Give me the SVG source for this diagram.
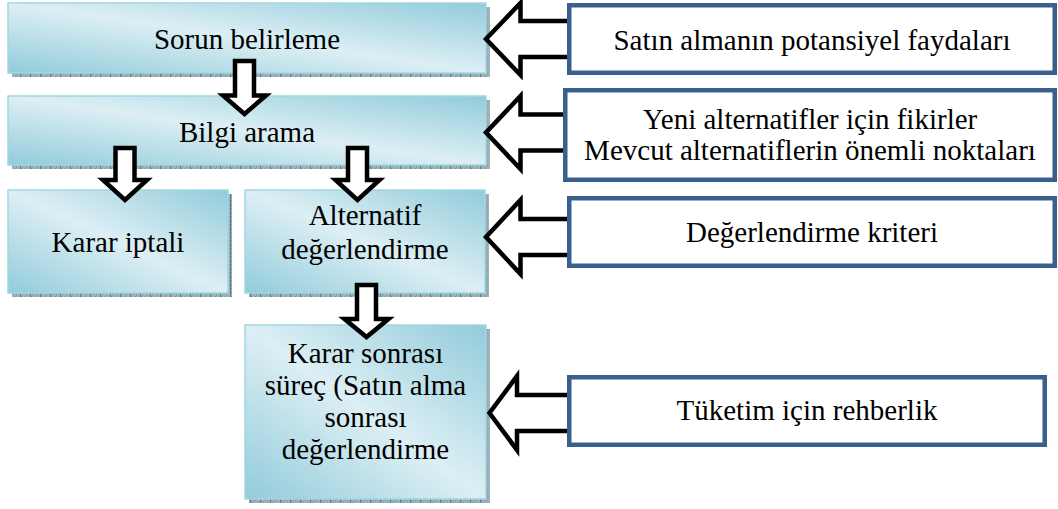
<svg xmlns="http://www.w3.org/2000/svg" width="1058" height="509" viewBox="0 0 1058 509">
  <defs>
    <linearGradient id="aqua" x1="1" y1="0" x2="0" y2="1">
      <stop offset="0" stop-color="#92cbdb"/>
      <stop offset="0.5" stop-color="#dceff4"/>
      <stop offset="1" stop-color="#92cbdb"/>
    </linearGradient>
    <pattern id="shade" patternUnits="userSpaceOnUse" width="10" height="4">
      <rect width="10" height="4" fill="#9cb3b9"/>
      <rect x="1" y="0" width="1" height="1" fill="#7a959d"/>
      <rect x="3" y="1" width="1" height="1" fill="#7a959d"/>
      <rect x="5" y="0" width="1" height="1" fill="#7a959d"/>
      <rect x="7" y="1" width="1" height="1" fill="#7a959d"/>
      <rect x="2" y="2" width="1" height="1" fill="#7a959d"/>
      <rect x="6" y="3" width="1" height="1" fill="#7a959d"/>
      <rect x="0" y="0" width="1" height="4" fill="#5f7e88"/>
    </pattern>
  </defs>
  <style>
    .shadow { fill: url(#shade); }
    .step { fill: url(#aqua); stroke: #a2d6e3; stroke-width: 1.5; }
    .input { fill: #ffffff; stroke: #3a5f8c; stroke-width: 4.5; }
    .arrow { fill: #ffffff; stroke: #000000; stroke-width: 4.5; stroke-linejoin: miter; stroke-miterlimit: 10; }
    .lbl { font-size: 29px; fill: #000000; text-anchor: middle; }
  </style>

  <g font-family="'Liberation Serif', 'Times New Roman', Tinos, 'DejaVu Serif', serif">
  <!-- process steps (left column) -->
  <g id="step-sorun">
    <rect class="shadow" x="12" y="7" width="478" height="70"/>
    <rect class="step" x="8" y="3" width="478" height="70"/>
    <text class="lbl" x="247" y="49">Sorun belirleme</text>
  </g>
  <g id="step-bilgi">
    <rect class="shadow" x="12" y="100" width="478" height="69"/>
    <rect class="step" x="8" y="96" width="478" height="69"/>
    <text class="lbl" x="247" y="142">Bilgi arama</text>
  </g>
  <g id="step-iptal">
    <rect class="shadow" x="12" y="194" width="220" height="103"/>
    <rect class="step" x="8" y="190" width="220" height="103"/>
    <text class="lbl" x="118" y="252">Karar iptali</text>
  </g>
  <g id="step-alternatif">
    <rect class="shadow" x="249" y="194" width="240" height="103"/>
    <rect class="step" x="245" y="190" width="240" height="103"/>
    <text class="lbl" x="365" y="225">Alternatif</text>
    <text class="lbl" x="365" y="259">değerlendirme</text>
  </g>
  <g id="step-sonrasi">
    <rect class="shadow" x="249" y="329" width="241" height="174"/>
    <rect class="step" x="245" y="325" width="241" height="174"/>
    <text class="lbl" x="365.5" y="363">Karar sonrası</text>
    <text class="lbl" x="365.5" y="395">süreç (Satın alma</text>
    <text class="lbl" x="365.5" y="427">sonrası</text>
    <text class="lbl" x="365.5" y="459">değerlendirme</text>
  </g>

  <!-- block arrows -->
  <g id="connectors">
    <path class="arrow" d="M235,61 H254 V95.5 H266 L244.5,114 L223,95.5 H235 Z"/>
    <path class="arrow" d="M115.5,148 H134.5 V180 H147 L125,200 L103,180 H115.5 Z"/>
    <path class="arrow" d="M348,148 H367 V180 H379.5 L357.5,200 L335.5,180 H348 Z"/>
    <path class="arrow" d="M357,285 H376 V319 H388.5 L366.5,337 L344.5,319 H357 Z"/>
    <path class="arrow" d="M572,21 H520.5 V3 L486,39 L520.5,75 V57 H572 Z"/>
    <path class="arrow" d="M568,114.5 H520.5 V96 L486,132.5 L520.5,169 V150.5 H568 Z"/>
    <path class="arrow" d="M572,219 H520.5 V200 L486,237 L520.5,274 V255 H572 Z"/>
    <path class="arrow" d="M572,395 H517 V376 L489.5,413 L517,450 V431 H572 Z"/>
  </g>

  <!-- inputs (right column) -->
  <g id="input-fayda">
    <rect class="input" x="569.25" y="5.25" width="485.5" height="67.5"/>
    <text class="lbl" x="812" y="50">Satın almanın potansiyel faydaları</text>
  </g>
  <g id="input-fikir">
    <rect class="input" x="565.25" y="90.25" width="489.5" height="89.5"/>
    <text class="lbl" x="810" y="129">Yeni alternatifler için fikirler</text>
    <text class="lbl" x="810" y="160">Mevcut alternatiflerin önemli noktaları</text>
  </g>
  <g id="input-kriter">
    <rect class="input" x="569.25" y="198.25" width="485.5" height="67.5"/>
    <text class="lbl" x="812" y="242">Değerlendirme kriteri</text>
  </g>
  <g id="input-rehber">
    <rect class="input" x="569.25" y="377.25" width="475.5" height="67.5"/>
    <text class="lbl" x="807" y="420">Tüketim için rehberlik</text>
  </g>
  </g>
</svg>
